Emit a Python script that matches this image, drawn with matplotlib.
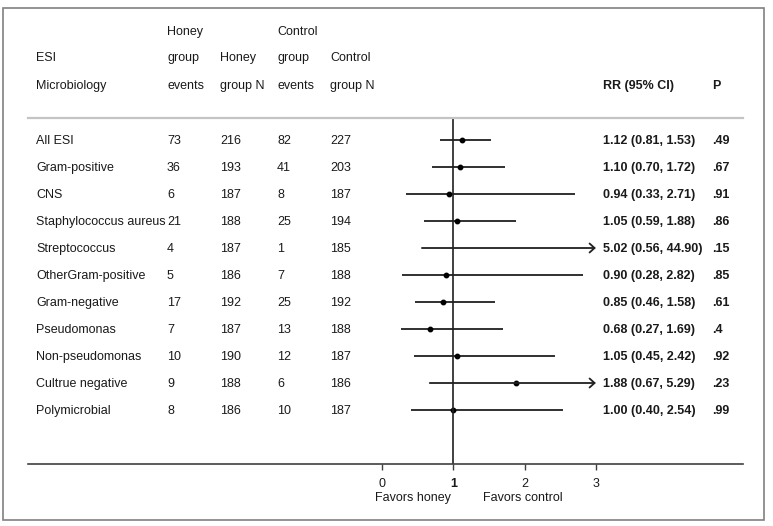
import matplotlib
matplotlib.use("Agg")
import matplotlib.pyplot as plt
import matplotlib.transforms as mtransforms
from matplotlib.patches import Rectangle

plt.rcParams['font.family'] = ['Liberation Sans', 'DejaVu Sans']

labels = ["All ESI", "Gram-positive", "CNS", "Staphylococcus aureus", "Streptococcus",
          "OtherGram-positive", "Gram-negative", "Pseudomonas", "Non-pseudomonas",
          "Cultrue negative", "Polymicrobial"]
honey_events = [73, 36, 6, 21, 4, 5, 17, 7, 10, 9, 8]
honey_n = [216, 193, 187, 188, 187, 186, 192, 187, 190, 188, 186]
ctrl_events = [82, 41, 8, 25, 1, 7, 25, 13, 12, 6, 10]
ctrl_n = [227, 203, 187, 194, 185, 188, 192, 188, 187, 186, 187]
rr = [1.12, 1.10, 0.94, 1.05, 5.02, 0.90, 0.85, 0.68, 1.05, 1.88, 1.00]
ci_lo = [0.81, 0.70, 0.33, 0.59, 0.56, 0.28, 0.46, 0.27, 0.45, 0.67, 0.40]
ci_hi = [1.53, 1.72, 2.71, 1.88, 44.90, 2.82, 1.58, 1.69, 2.42, 5.29, 2.54]
p_vals = [".49", ".67", ".91", ".86", ".15", ".85", ".61", ".4", ".92", ".23", ".99"]
x_ticks = [0, 1, 2, 3]

W, H = 773, 526
fig = plt.figure(figsize=(W / 100, H / 100), dpi=100)

# axes spans the horizontal rule under the header down to the bottom axis line
ax = fig.add_axes([28 / W, 62 / H, (743 - 28) / W, (464 - 118) / H])
ax.set_xlim(-4.965, 5.063)
ax.set_ylim(12.0, -0.815)

txt_color = "#1a1a1a"
line_color = "#202020"
fs = 9
x_max = max(x_ticks)
dy = 0.04  # small nudge so text sits on the row line

rows = list(range(len(labels)))
for i in rows:
    if ci_hi[i] > x_max:
        ax.annotate("", xy=(x_max, i), xytext=(ci_lo[i], i),
                    arrowprops=dict(arrowstyle="->,head_length=0.3,head_width=0.27",
                                    lw=1.3, color=line_color,
                                    shrinkA=0, shrinkB=0, mutation_scale=12))
    else:
        ax.plot([ci_lo[i], ci_hi[i]], [i, i], color=line_color, lw=1.3,
                solid_capstyle="butt")
    if rr[i] <= x_max:
        ax.plot(rr[i], i, "o", color="black", markersize=3.2)

ax.axvline(1, color=line_color, lw=1.2)

for s in ["left", "right"]:
    ax.spines[s].set_visible(False)
ax.spines["top"].set_color("#c4c4c4")
ax.spines["top"].set_linewidth(1.6)
ax.spines["bottom"].set_color("#404040")
ax.spines["bottom"].set_linewidth(1.2)
ax.set_yticks([])
ax.set_xticks(x_ticks)
ax.set_xticklabels([str(t) for t in x_ticks], fontsize=fs, color=txt_color)
ax.get_xticklabels()[1].set_fontweight("bold")
ax.tick_params(axis="x", direction="out", length=4.3, width=1, colors="#404040",
               labelcolor=txt_color, pad=5.5)

ax.text(0.97, 13.26, "Favors honey", ha="right", va="center", fontsize=fs,
        color=txt_color, clip_on=False)
ax.text(1.42, 13.26, "Favors control", ha="left", va="center", fontsize=fs,
        color=txt_color, clip_on=False)

# table columns: x in figure pixels, y in row units
trans = mtransforms.blended_transform_factory(fig.transFigure, ax.transData)
col_x = [36, 167, 220, 277, 330]
rr_x, p_x = 603, 712

headers = [
    ["", "Honey", "", "Control", ""],
    ["ESI", "group", "Honey", "group", "Control"],
    ["Microbiology", "events", "group N", "events", "group N"],
]
header_y = [-4.0, -3.03, -2.0]
for line, hy in zip(headers, header_y):
    for cx, t in zip(col_x, line):
        ax.text(cx / W, hy, t, transform=trans, ha="left", va="center",
                fontsize=fs, color=txt_color, clip_on=False)
ax.text(rr_x / W, header_y[2], "RR (95% CI)", transform=trans, ha="left",
        va="center", fontsize=fs, color=txt_color, fontweight="bold", clip_on=False)
ax.text(p_x / W, header_y[2], "P", transform=trans, ha="left",
        va="center", fontsize=fs, color=txt_color, fontweight="bold", clip_on=False)

for i in rows:
    cells = [labels[i], str(honey_events[i]), str(honey_n[i]),
             str(ctrl_events[i]), str(ctrl_n[i])]
    for cx, t in zip(col_x, cells):
        ax.text(cx / W, i + dy, t, transform=trans, ha="left", va="center",
                fontsize=fs, color=txt_color, clip_on=False)
    rr_txt = f"{rr[i]:.2f} ({ci_lo[i]:.2f}, {ci_hi[i]:.2f})"
    ax.text(rr_x / W, i + dy, rr_txt, transform=trans, ha="left", va="center",
            fontsize=fs, color=txt_color, fontweight="bold", clip_on=False)
    ax.text(p_x / W, i + dy, p_vals[i], transform=trans, ha="left", va="center",
            fontsize=fs, color=txt_color, fontweight="bold", clip_on=False)

# outer frame
fig.patches.append(Rectangle((3.5 / W, 6 / H), (764 - 3.5) / W, (522 - 6 - 4) / H,
                             transform=fig.transFigure, fill=False,
                             edgecolor="#808080", lw=1.2))

fig.savefig("out.png", dpi=100)
